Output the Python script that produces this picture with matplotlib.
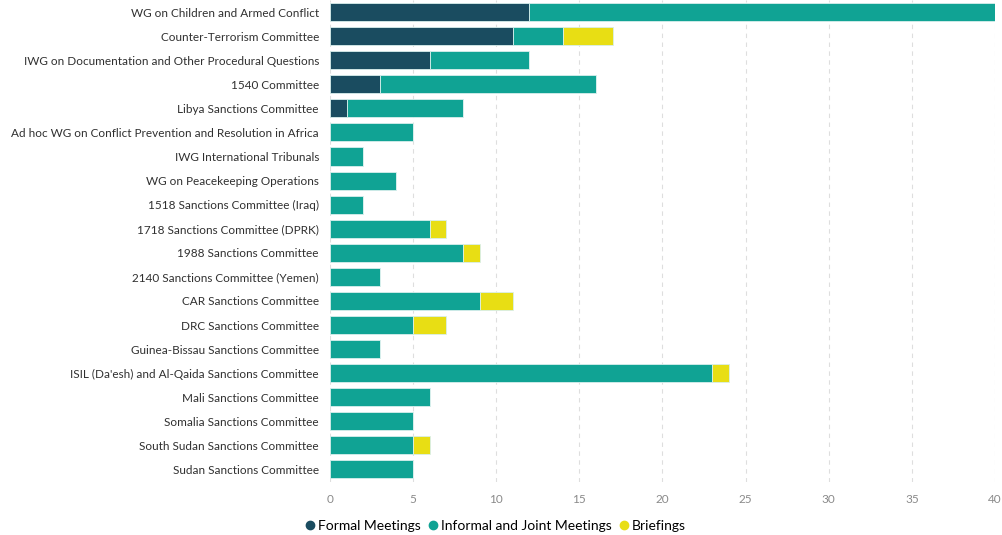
import matplotlib
matplotlib.use("Agg")
import matplotlib.pyplot as plt
import numpy as np

plt.rcParams["font.family"] = ["Lato", "DejaVu Sans"]

categories = [
    "WG on Children and Armed Conflict",
    "Counter-Terrorism Committee",
    "IWG on Documentation and Other Procedural Questions",
    "1540 Committee",
    "Libya Sanctions Committee",
    "Ad hoc WG on Conflict Prevention and Resolution in Africa",
    "IWG International Tribunals",
    "WG on Peacekeeping Operations",
    "1518 Sanctions Committee (Iraq)",
    "1718 Sanctions Committee (DPRK)",
    "1988 Sanctions Committee",
    "2140 Sanctions Committee (Yemen)",
    "CAR Sanctions Committee",
    "DRC Sanctions Committee",
    "Guinea-Bissau Sanctions Committee",
    "ISIL (Da'esh) and Al-Qaida Sanctions Committee",
    "Mali Sanctions Committee",
    "Somalia Sanctions Committee",
    "South Sudan Sanctions Committee",
    "Sudan Sanctions Committee",
]
formal = [12, 11, 6, 3, 1, 0, 0, 0, 0, 0, 0, 0, 0, 0, 0, 0, 0, 0, 0, 0]
informal = [28, 3, 6, 13, 7, 5, 2, 4, 2, 6, 8, 3, 9, 5, 3, 23, 6, 5, 5, 5]
briefings = [0, 3, 0, 0, 0, 0, 0, 0, 0, 1, 1, 0, 2, 2, 0, 1, 0, 0, 1, 0]

series = [
    ("Formal Meetings", formal, "#1a4c60"),
    ("Informal and Joint Meetings", informal, "#10a394"),
    ("Briefings", briefings, "#e8de14"),
]

fig = plt.figure(figsize=(10.03, 5.35), dpi=100)
ax = fig.add_axes([0.329, 0.1, 0.663, 0.9])

y = np.arange(len(categories))
left = np.zeros(len(categories))
for name, vals, color in series:
    vals = np.array(vals, dtype=float)
    ax.barh(y, vals, left=left, height=0.75, color=color,
            edgecolor="#d8efec", linewidth=0.6, label=name, zorder=3)
    left += vals

ax.set_ylim(len(categories) - 0.5, -0.5)
ax.set_xlim(0, 40)
ax.set_xticks(range(0, 41, 5))
ax.set_yticks(y)
ax.set_yticklabels(categories, fontsize=8.5, color="#303030")
ax.tick_params(axis="x", colors="#8a8a8a", labelsize=8.5, length=0, pad=9)
ax.tick_params(axis="y", length=0, pad=8)
for s in ax.spines.values():
    s.set_visible(False)
ax.grid(axis="x", linestyle=(0, (4, 4)), color="#dedede", linewidth=0.8, zorder=0)
ax.set_axisbelow(True)

handles = [plt.Line2D([], [], marker="o", linestyle="", markersize=6,
                      color=c, label=n) for n, _, c in series]
fig.legend(handles=handles, loc="lower center", bbox_to_anchor=(0.493, -0.017),
           ncol=3, frameon=False, fontsize=10, handletextpad=0.05,
           columnspacing=0.4, handlelength=1)

fig.savefig("out.png", dpi=100)
